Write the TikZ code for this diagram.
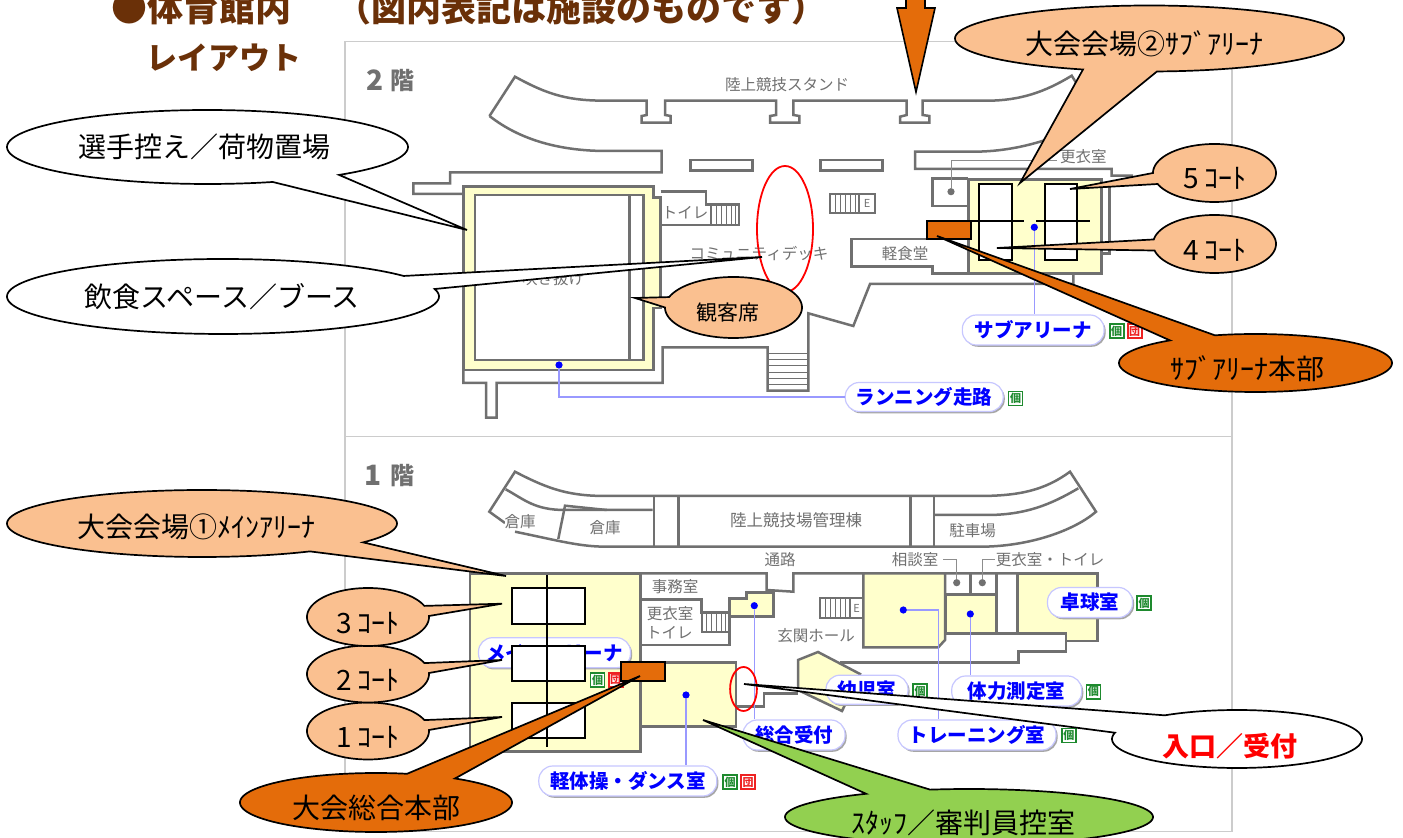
\documentclass[tikz,border=0pt]{standalone}
\usepackage{fontspec}
\setmainfont{Noto Sans CJK JP}
\usetikzlibrary{shadows}
\definecolor{wall}{HTML}{707070}
\definecolor{panelgray}{HTML}{CCCCCC}
\definecolor{roomyellow}{HTML}{FFFFCC}
\definecolor{peach}{HTML}{FAC090}
\definecolor{hqorange}{HTML}{E46C0A}
\definecolor{leafgreen}{HTML}{92D050}
\definecolor{headbrown}{HTML}{6A3008}
\definecolor{pillblue}{HTML}{0000FF}
\definecolor{leadblue}{HTML}{9999FF}
\definecolor{icongreen}{HTML}{1E8A2E}
\definecolor{iconred}{HTML}{EE2222}
\newcommand\fs[1]{\fontsize{\fpeval{#1/2}}{\fpeval{#1/2}}\selectfont}
\newcommand\pillnode[6]{\node[pilllabel,minimum width=#4*0.5pt,minimum height=#5*0.5pt] (#1) at (#2,#3) {#6};}
\newcommand\iconnode[5]{\node[iconbox,draw=#4,text=#4] (#1) at (#2,#3) {#5};}
\newcommand\calloutshape[8]{\filldraw[fill=#1,calloutline] (#8) -- plot[domain=#6:#7,samples=140] ({#2+#4*cos(\x)},{#3+#5*sin(\x)}) -- cycle;}
\begin{document}
\begin{tikzpicture}[x=0.5pt,y=-0.5pt,
  wallline/.style={draw=wall,line width=1.25pt,line join=miter},
  thinwall/.style={draw=wall,line width=0.5pt},
  room/.style={wallline,fill=roomyellow},
  court/.style={draw=black,line width=1pt,fill=white},
  courtaxis/.style={draw=black,line width=1pt},
  graylabel/.style={text=wall,inner sep=0pt,font=\fs{15.5}},
  floorlabel/.style={text=wall,inner sep=0pt,font=\fs{24}\bfseries},
  pilllabel/.style={rounded corners=7pt,draw=leadblue!55,line width=0.6pt,fill=white,text=pillblue,inner sep=0pt,font=\fs{19.5}\bfseries,
     copy shadow={shadow xshift=0.8pt,shadow yshift=-0.9pt,fill=black!35,draw=none}},
  iconbox/.style={line width=0.8pt,fill=white,minimum size=7pt,inner sep=0pt,font=\fs{11}\bfseries},
  bdot/.style={circle,fill=pillblue,minimum size=3.6pt,inner sep=0pt},
  gdot/.style={circle,fill=wall,minimum size=3.6pt,inner sep=0pt},
  bline/.style={draw=leadblue,line width=0.55pt},
  gline/.style={draw=wall!80,line width=0.45pt},
  hqbox/.style={draw=black,line width=1pt,fill=hqorange,inner sep=0pt},
  redring/.style={draw=red,line width=0.9pt},
  calloutline/.style={draw=black,line width=0.85pt},
  bubbletext/.style={text=black,inner sep=0pt,font=\fs{28}},
]
\useasboundingbox (0,0) rectangle (1403,838);
\fill[white] (0,0) rectangle (1403,838);
% panels
\draw[panelgray,line width=0.6pt] (345,41.7) rectangle (1232,831.5);
\draw[panelgray,line width=0.8pt] (345,436.5) -- (1232,436.5);
% ---------- 2F ----------
\node[floorlabel,font=\fs{28}\bfseries] (f2a) at (375,80) {2};
\node[floorlabel] (f2b) at (402,81) {階};
\path[wallline] (489.5,116) -- (515,76.7) .. controls (550,96) and (570,100.7) .. (606.7,100.7)
  -- (646.7,100.7) -- (646.7,115) -- (641.7,116) -- (641.7,122.7) -- (670.7,122.7) -- (670.7,116) -- (665,115) -- (665,100.7)
  -- (776,100.7) -- (776,115) -- (770,116) -- (770,122.7) -- (799.3,122.7) -- (799.3,116) -- (793.3,115) -- (793.3,100.7)
  -- (906.7,100.7) -- (906.7,115) -- (900,116.7) -- (900,122.7) -- (929.3,122.7) -- (929.3,116) -- (922.7,115) -- (922.7,100.7)
  -- (986.7,100.7) .. controls (1020,100.7) and (1045,92) .. (1071.7,75.7) -- (1097,116)
  .. controls (1075,130) and (1030,151.7) .. (973,151.7) -- (915,151.7) -- (915,169) -- (1111.7,169) -- (1111.7,175.7) -- (1133,175.7);
\path[wallline] (489.5,116) .. controls (520,140) and (560,151) .. (606.7,151) -- (661.7,151) -- (661.7,172.3) -- (450,172.3)
  -- (450,183.3) -- (413.3,183.3) -- (413.3,194) -- (463.3,194);
\path[wallline] (690.7,160) rectangle (752.7,170.7);
\path[wallline] (820.7,160) rectangle (882.7,170.7);
% main hall block
\path[room] (463.3,186.7) -- (653.3,186.7) -- (653.3,197.3) -- (660.7,197.3) -- (660.7,308) -- (653.3,308) -- (653.3,370) -- (463.3,370) -- cycle;
\path[wallline,fill=white] (475,195) rectangle (643.3,360);
\path[wallline] (629.3,195) -- (629.3,360);
\node[graylabel] (void) at (553,279) {吹き抜け};
\path[wallline] (463.3,370) -- (463.3,383) -- (486,383) -- (486,417.7) -- (496.7,417.7) -- (496.7,383) -- (662.7,383) -- (662.7,347.3)
  -- (767.7,347.3) -- (767.7,390.7) -- (808.3,390.7) -- (808.3,313.3) -- (853.3,326) -- (870,284) -- (1073.3,284) -- (1073.3,273.3);
\foreach \sy in {353.5,359.7,365.9,372.1,378.3,384.5} \draw[thinwall] (767.7,\sy) -- (808.3,\sy);
% toilet
\path[wallline] (660.7,191.7) -- (706,191.7) -- (706,204.3) -- (739,204.3) -- (739,225) -- (660.7,225);
\path[wallline,line width=0.8pt] (711,204.3) -- (711,225);
\foreach \sx in {716,721,726,731,735} \draw[thinwall] (\sx,204.3) -- (\sx,225);
\node[graylabel] (toilet2) at (685,213) {トイレ};
% E stairs
\path[wallline,line width=0.9pt] (830,194) rectangle (875,212.7);
\path[wallline,line width=0.9pt] (859,194) -- (859,212.7);
\foreach \sx in {835,840,845,850,855} \draw[thinwall] (\sx,194) -- (\sx,212.7);
\node[graylabel,font=\fs{11}] (elev2) at (867,203.5) {E};
\node[graylabel] (stand2) at (787,85) {陸上競技スタンド};
\node[graylabel] (deck) at (759,254) {コミュニティデッキ};
% snack bar
\path[wallline] (968,239) -- (851.7,239) -- (851.7,266.7) -- (932.3,266.7) -- (932.3,273.3) -- (968.3,273.3);
\node[graylabel] (snack) at (905,253.5) {軽食堂};
\path[wallline] (1101.7,187) -- (1109.3,187) -- (1109.3,253.3) -- (1101.7,253.3);
% small room
\path[wallline] (968.3,178.3) -- (932.3,178.3) -- (932.3,206) -- (968.3,206);
\node[gdot] (locker2dot) at (951,191.7) {};
\coordinate (locker2end) at (1056.7,160);
\draw[gline] (locker2dot) |- (locker2end);
\node[graylabel] (locker2) at (1083.3,156.5) {更衣室};
% sub arena
\path[room] (968.3,179.3) rectangle (1101.7,273.3);
\path[court] (979,184.3) rectangle (1011.7,260);
\path[court] (1045,184.3) rectangle (1077.3,260);
\draw[courtaxis] (970,221) -- (1024,221);
\draw[courtaxis] (1036,221) -- (1090,221);
\node[bdot] (subdot) at (1034.3,227.3) {};
\pillnode{subpill}{1033.2}{330}{141.7}{30}{サブアリーナ}
\draw[bline] (subdot) -- (subdot |- subpill.north);
\iconnode{subi1}{1116.7}{331.2}{icongreen}{個}
\iconnode{subi2}{1134.7}{331.2}{iconred}{団}
\pillnode{runpill}{924.2}{397}{158}{29}{ランニング走路}
\iconnode{runi1}{1015.5}{398.7}{icongreen}{個}
\node[bdot] (rundot) at (559,365) {};
\draw[bline] (rundot) |- (runpill.west);
% ---------- 1F ----------
\node[floorlabel,font=\fs{28}\bfseries] (f1a) at (373,475) {1};
\node[floorlabel] (f1b) at (402,476) {階};
\path[wallline] (505,523) -- (489.3,511.7) -- (515,471.7) .. controls (550,490) and (570,496) .. (606.7,496) -- (978.3,496)
  .. controls (1020,496) and (1045,490) .. (1070,471.7) -- (1096,511.7) .. controls (1075,530) and (1030,546.7) .. (980,546.7)
  -- (606.7,546.7) .. controls (580,546.7) and (560,541) .. (515,531.7);
\path[wallline] (505.7,489.3) .. controls (525,500) and (535,510) .. (565,510) -- (652.7,510);
\path[wallline] (558.3,539) -- (565,505.7) -- (606.7,510);
\path[wallline] (654,496) -- (654,546.7);
\path[wallline] (678.3,496) -- (678.3,546.7);
\path[wallline] (910.7,496) -- (910.7,546.7);
\path[wallline] (934,496) -- (934,546.7);
\path[wallline] (934,515) -- (986.7,515) .. controls (1025,515) and (1050,505) .. (1078.3,488.3);
\node[graylabel,fill=white] (store1) at (520,522) {倉庫};
\node[graylabel] (store2) at (605,528) {倉庫};
\node[graylabel,font=\fs{16.5}] (mgmt) at (796,520) {陸上競技場管理棟};
\node[graylabel] (park) at (972.7,530.5) {駐車場};
\node[graylabel] (path1) at (780,559.3) {通路};
\node[graylabel] (consult) at (915,559.3) {相談室};
\node[graylabel] (locker1) at (1050,559.3) {更衣室・トイレ};
% main arena
\path[room] (470,573.3) rectangle (640.7,751.7);
\path[wallline] (640.7,573.3) -- (766.7,573.3) -- (766.7,590) -- (793.3,591.7) -- (793.3,573.3) -- (1096.7,573.3);
\path[wallline] (641.7,599.3) -- (701.7,599.3) -- (701.7,612.7) -- (729.3,612.7) -- (729.3,645) -- (641.7,645);
\path[wallline,line width=0.9pt] (701.7,612.7) rectangle (729.3,631.7);
\foreach \sx in {706,711,716,721,725} \draw[thinwall] (\sx,612.7) -- (\sx,631.7);
\path[room] (729.3,598.3) -- (746.7,598.3) -- (746.7,592.7) -- (773.3,592.7) -- (773.3,616.7) -- (729.3,616.7) -- cycle;
\node[graylabel] (office) at (675,586.7) {事務室};
\node[graylabel] (lockertxt) at (670,614) {更衣室};
\node[graylabel] (toilettxt) at (669.3,632.7) {トイレ};
\node[graylabel] (entr) at (816,636) {玄関ホール};
\path[wallline,line width=0.9pt] (820,598.3) rectangle (862.7,617.7);
\path[wallline,line width=0.9pt] (850,598.3) -- (850,617.7);
\foreach \sx in {825,830,835,840,845} \draw[thinwall] (\sx,598.3) -- (\sx,617.7);
\node[graylabel,font=\fs{11}] (elev1) at (856.5,608) {E};
% dance room
\path[room] (640.7,662.7) rectangle (736,726.7);
% entrance wall
\path[wallline] (736.7,706.7) -- (764,706.7) -- (764,693.3) -- (798,693.3);
% hexagon
\path[room] (798,660) -- (818,652) -- (860,674) -- (842,711) -- (798,690) -- cycle;
% right rooms
\path[room] (863.3,573.3) -- (945,573.3) -- (945,640) -- (938.3,647.3) -- (863.3,647.3) -- cycle;
\path[room] (946,594.3) rectangle (996.7,633.3);
\path[wallline] (945,573.3) -- (945,594.3) -- (996.7,594.3) -- (996.7,573.3);
\path[wallline] (970.7,573.3) -- (970.7,594.3);
\path[wallline] (996.7,633.3) -- (996.7,573.3);
\path[room] (1017.3,573.3) -- (1097.3,573.3) -- (1097.3,641) -- (1066,641) -- (1066,633.3) -- (1017.3,633.3) -- cycle;
\path[wallline] (945,633.3) -- (1066,633.3) -- (1066,651.7) -- (1018.3,651.7) -- (1018.3,662.7) -- (840,662.7);
\node[gdot] (cdot1) at (956.7,582.7) {};
\node[gdot] (cdot2) at (982.3,582.7) {};
\coordinate (cend1) at (943.3,559);
\coordinate (cend2) at (995,559);
\draw[gline] (cdot1) |- (cend1);
\draw[gline] (cdot2) |- (cend2);
% pills 1F
\pillnode{mainpill}{554.5}{652.7}{152}{30}{メインアリーナ}
\iconnode{maini1}{597.5}{680}{icongreen}{個}
\iconnode{maini2}{615.7}{680}{iconred}{団}
\pillnode{ttpill}{1090}{602.5}{85}{30}{卓球室}
\iconnode{tti1}{1144}{603.3}{icongreen}{個}
\pillnode{fitpill}{1016.7}{691}{130}{30}{体力測定室}
\iconnode{fiti1}{1093.3}{691.8}{icongreen}{個}
\pillnode{kidpill}{867}{689.7}{82}{29}{幼児室}
\iconnode{kidi1}{920}{691}{icongreen}{個}
\pillnode{trainpill}{977}{735}{158}{30}{トレーニング室}
\iconnode{traini1}{1068.8}{735.5}{icongreen}{個}
\pillnode{recpill}{794}{735}{102}{30}{総合受付}
\pillnode{dancepill}{627.8}{781}{178}{30}{軽体操・ダンス室}
\iconnode{dancei1}{730}{782.2}{icongreen}{個}
\iconnode{dancei2}{748}{782.2}{iconred}{団}
\node[bdot] (recdot) at (754.3,605.7) {};
\node[bdot] (dancedot) at (686,695) {};
\node[bdot] (traindot) at (903.3,610) {};
\node[bdot] (fitdot) at (970.3,614) {};
\coordinate (trainturn) at (938.3,610);
\draw[bline] (recdot) -- (recdot |- recpill.north);
\draw[bline] (dancedot) -- (dancedot |- dancepill.north);
\draw[bline] (traindot) -- (trainturn) -- (trainturn |- trainpill.north);
\draw[bline] (fitdot) -- (fitdot |- fitpill.north);
% courts main
\path[court] (512.3,588.3) rectangle (585.3,624);
\path[court] (512.3,645.7) rectangle (585.3,680.7);
\path[court] (512.3,702.7) rectangle (585.3,737.7);
\draw[courtaxis] (547.3,575) -- (547.3,747.3);
% HQ boxes
\node[hqbox,minimum width=22pt,minimum height=9.2pt] (hq2) at (948.7,230.2) {};
\node[hqbox,minimum width=22pt,minimum height=9.5pt] (hq1) at (643,671.2) {};
% red rings
\draw[redring] (785,229) ellipse [x radius=14pt,y radius=31.5pt];
\draw[redring] (743.5,689) ellipse [x radius=6.7pt,y radius=11pt];
% ---------- callouts ----------
\coordinate (t1) at (467,230);
\coordinate (t2) at (762,257);
\coordinate (t3) at (635,298);
\coordinate (t4) at (1020,183);
\coordinate (t5) at (1070,189);
\coordinate (t6) at (997,248);
\coordinate (t7) at (937,236);
\coordinate (t8) at (506,576);
\coordinate (t9) at (502,603.7);
\coordinate (t10) at (502,660);
\coordinate (t11) at (502,717);
\coordinate (t12) at (640,676);
\coordinate (t13) at (744,684);
\coordinate (t14) at (703,720);
\calloutshape{white}{207.5}{147}{200.5}{37}{71}{409}{t1}
\calloutshape{white}{223}{296.5}{216}{37.5}{-11.5}{326.8}{t2}
\calloutshape{peach}{733.5}{307.5}{68.5}{30.5}{200}{540}{t3}
\calloutshape{peach}{1149.5}{38.5}{194.5}{33}{110}{447.8}{t4}
\calloutshape{peach}{1214.5}{173}{61.5}{29}{180}{517.7}{t5}
\calloutshape{peach}{1214.5}{244}{61.5}{29}{189}{527}{t6}
\calloutshape{hqorange}{1255.5}{363}{136.5}{29}{252.7}{591.2}{t7}
\calloutshape{peach}{202}{523.5}{195}{33.5}{56.4}{394.3}{t8}
\calloutshape{peach}{368}{731}{61}{28.5}{-2}{337.5}{t11}
\calloutshape{peach}{368}{674}{61}{28.5}{-2}{337.5}{t10}
\calloutshape{peach}{368}{617}{61}{29}{-2}{337.5}{t9}
\calloutshape{hqorange}{376}{802.5}{136}{29.5}{305.5}{643.2}{t12}
\calloutshape{white}{1237}{739}{125}{29}{234.7}{552.5}{t13}
\calloutshape{leafgreen}{969}{817}{184}{28}{257.8}{596}{t14}
\node[bubbletext] (bt1) at (204,147) {選手控え／荷物置場};
\node[bubbletext] (bt2) at (222,297) {飲食スペース／ブース};
\node[bubbletext,font=\fs{21}] (bt3) at (728,312.7) {観客席};
\node[bubbletext] (bt4) at (1144,43.3) {大会会場②ｻﾌﾞｱﾘｰﾅ};
\node[bubbletext] (bt5) at (1215,178) {5 ｺｰﾄ};
\node[bubbletext] (bt6) at (1215,250) {4 ｺｰﾄ};
\node[bubbletext] (bt7) at (1247,369) {ｻﾌﾞｱﾘｰﾅ本部};
\node[bubbletext] (bt8) at (196.5,527) {大会会場①ﾒｲﾝｱﾘｰﾅ};
\node[bubbletext] (bt9) at (368,623) {3 ｺｰﾄ};
\node[bubbletext] (bt10) at (368,680) {2 ｺｰﾄ};
\node[bubbletext] (bt11) at (368,737) {1 ｺｰﾄ};
\node[bubbletext] (bt12) at (376,808) {大会総合本部};
\node[bubbletext,text=red,font=\fs{27}\bfseries] (bt13) at (1230,746) {入口／受付};
\node[bubbletext] (bt14) at (963,823) {ｽﾀｯﾌ／審判員控室};
% arrow
\filldraw[fill=hqorange,draw=black,line width=0.8pt] (906,-2) -- (906,8) -- (897,8) -- (916,92) -- (935,8) -- (925,8) -- (925,-2) -- cycle;
% heading
\node[anchor=west,inner sep=0pt,text=headbrown,font=\fs{36}\bfseries] (h1) at (111,8) {●体育館内};
\node[anchor=west,inner sep=0pt,text=headbrown,font=\fs{35}\bfseries] (h2) at (336,8) {（図内表記は施設のものです）};
\node[anchor=west,inner sep=0pt,text=headbrown,font=\fs{31}\bfseries] (h3) at (146,58) {レイアウト};
\end{tikzpicture}
\end{document}
